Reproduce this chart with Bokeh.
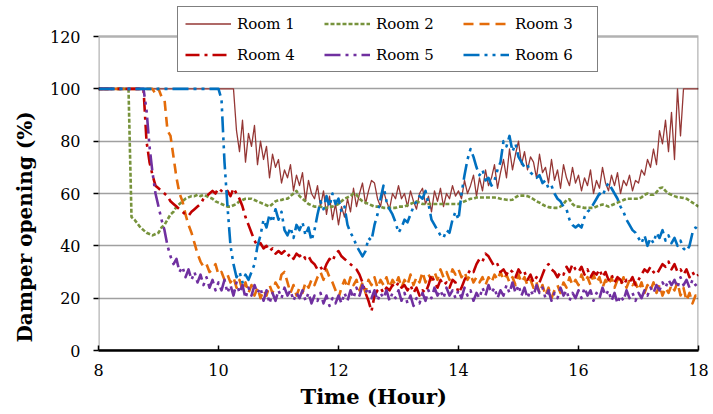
import numpy as np
from bokeh.plotting import figure
from bokeh.models import Range1d, FixedTicker, Legend, LegendItem, BoxAnnotation, Title
from bokeh.embed import file_html
from bokeh.resources import INLINE

# time grid (hours), 3-minute sampling
hours = list(np.round(8 + 0.05 * np.arange(201), 2))

room1 = ([100] * 40 +
         [100, 100, 100, 100, 100, 100, 84, 76, 88, 72, 83, 78, 86, 71, 80, 73, 78, 66, 75, 70] +
         [73, 64, 69, 66, 71, 61, 67, 63, 68, 57, 65, 60, 58, 63, 55, 61, 52, 59, 50, 56] +
         [48, 55, 51, 58, 53, 62, 55, 60, 64, 56, 61, 65, 64, 58, 55, 61, 57, 54, 60, 58] +
         [63, 58, 60, 55, 61, 57, 54, 60, 62, 56, 59, 53, 61, 57, 62, 55, 60, 58, 63, 59] +
         [61, 58, 65, 60, 63, 67, 59, 66, 61, 69, 63, 66, 71, 62, 68, 73, 66, 77, 69, 75] +
         [80, 71, 76, 69, 74, 72, 66, 75, 68, 70, 64, 73, 65, 69, 62, 71, 66, 63, 70, 64] +
         [67, 61, 66, 63, 69, 60, 65, 62, 70, 64, 61, 67, 63, 68, 60, 65, 63, 67, 61, 65] +
         [64, 69, 67, 73, 70, 77, 71, 84, 79, 88, 76, 91, 73, 100, 82, 100, 100, 100, 100, 100] +
         [100])

room2 = ([100] * 11 + [51, 50, 48.5, 47, 46, 45, 44.5, 44, 44.5] +
         [45, 47, 48, 50, 52, 53, 55, 56, 57, 58, 58.5, 59, 59, 59.5, 59, 59.5, 59, 58.5, 58, 57] +
         [56.5, 56, 55.5, 55, 55, 55.5, 56, 57, 57.5, 58, 58, 58, 57.5, 57, 56.5, 56, 55.5, 55, 56, 57] +
         [57.5, 57.5, 58, 58, 59, 60, 61, 59, 58, 57, 56, 55.5, 55, 55, 55, 54.5, 54.5, 55, 55, 55.5] +
         [56, 57, 58, 58.5, 59, 60, 59.5, 58, 57, 56.5, 56, 55.5, 55, 55, 55, 54.5, 54.5, 54.5, 54.5, 54.5] +
         [55, 55, 55, 55.5, 56, 56.5, 57, 56.5, 56, 56, 56, 56, 56, 56, 56, 56, 56, 56, 56, 56] +
         [56, 56.5, 57, 57.5, 58, 58, 58.5, 58.5, 58.5, 58.5, 58.5, 58.5, 58.5, 58.3, 58, 57.8, 57.6, 57.5, 57.6, 58.5] +
         [59.2, 59.2, 59.2, 59, 58.5, 57.8, 57, 56.5, 55.8, 55.2, 54.8, 54.6, 54.5, 54.5, 55, 56, 57.5, 57.8, 56, 55] +
         [55, 54.8, 54.5, 54.5, 54.5, 54.5, 55, 55.5, 55.8, 55.5, 55, 55.5, 56, 56.5, 57, 57.5, 58, 58, 58, 58] +
         [58, 58.5, 59.5, 60, 59.5, 59.5, 60.5, 62, 62.3, 61, 60, 59.5, 59, 58.6, 58.5, 58.3, 58, 57.3, 56.5, 55.8] +
         [55])

room3 = ([100] * 19 + [98] +
         [100, 97, 96, 84, 82, 74, 66, 60, 57, 52, 48, 45, 41, 37, 34, 32, 33, 30, 31, 33] +
         [29, 30, 27, 29, 26, 28, 24, 27, 23, 26, 22, 25, 21, 24, 20, 23, 21, 25, 22, 26] +
         [24, 29, 30, 26, 22, 25, 21, 24, 22, 26, 24, 27, 25, 28, 30, 27, 31, 28, 26, 23] +
         [20, 24, 27, 24, 28, 25, 27, 23, 26, 22, 27, 25, 28, 24, 27, 25, 28, 24, 27, 25] +
         [28, 24, 27, 25, 29, 25, 28, 26, 30, 26, 29, 27, 30, 27, 31, 28, 30, 27, 31, 29] +
         [31, 28, 30, 27, 29, 26, 28, 26, 28, 25, 28, 26, 29, 27, 30, 27, 29, 26, 28, 25] +
         [29, 26, 28, 25, 27, 24, 26, 22, 25, 21, 24, 20, 23, 25, 22, 26, 24, 28, 25, 27] +
         [25, 29, 26, 28, 25, 29, 26, 28, 24, 27, 25, 28, 24, 27, 25, 28, 24, 27, 25, 26] +
         [23, 26, 22, 25, 23, 26, 22, 25, 21, 24, 22, 25, 23, 26, 21, 24, 19, 22, 18, 21] +
         [20])

room4 = ([100] * 16 + [80, 72, 67, 63] +
         [62, 61, 60, 59, 57, 56, 55, 54, 53, 52, 51.5, 53, 54, 55, 56, 58, 59, 60, 61, 60] +
         [62, 61, 60, 61, 59, 62, 60, 58, 55, 51, 48, 45, 42, 40, 41, 39, 40, 38, 39, 37] +
         [38, 37, 38, 36, 37, 35, 37, 36, 37, 35, 36, 34, 33, 31, 32, 30, 33, 35, 34, 37] +
         [38, 36, 35, 34, 33, 32, 31, 29, 26, 22, 19, 15, 21, 23, 24, 22, 24, 23, 25, 24] +
         [26, 24, 25, 23, 25, 22, 24, 21, 23, 22, 25, 29, 26, 24, 27, 25, 26, 24, 27, 26] +
         [22, 24, 27, 29, 31, 30, 33, 35, 34, 37, 36, 34, 32, 33, 30, 31, 29, 31, 30, 28] +
         [31, 29, 30, 27, 29, 26, 28, 26, 29, 32, 33, 31, 30, 28, 30, 29, 32, 30, 33, 31] +
         [30, 32, 29, 31, 28, 30, 29, 31, 28, 30, 27, 29, 26, 28, 27, 25, 27, 26, 28, 25] +
         [27, 29, 31, 30, 32, 30, 29, 31, 33, 32, 34, 31, 33, 30, 31, 29, 31, 28, 30, 28] +
         [29])

room5 = ([100] * 16 + [92, 78, 68, 60] +
         [55, 50, 46, 40, 36, 33, 35, 30, 32, 28, 31, 27, 30, 26, 29, 25, 28, 24, 27, 23] +
         [26, 23, 27, 22, 25, 21, 26, 22, 25, 20, 24, 21, 25, 22, 24, 19, 23, 18, 22, 19] +
         [23, 20, 24, 21, 23, 19, 22, 20, 23, 19, 22, 18, 21, 19, 22, 18, 21, 17, 20, 18] +
         [21, 18, 22, 19, 23, 20, 24, 21, 25, 22, 24, 20, 23, 19, 22, 20, 23, 19, 22, 20] +
         [23, 19, 22, 18, 21, 17, 20, 18, 22, 19, 23, 20, 24, 21, 23, 20, 24, 21, 23, 20] +
         [23, 20, 24, 21, 23, 19, 22, 20, 24, 21, 25, 22, 24, 20, 23, 21, 25, 22, 26, 22] +
         [25, 21, 24, 20, 23, 21, 25, 22, 24, 20, 23, 19, 22, 20, 24, 21, 23, 19, 22, 20] +
         [23, 20, 24, 21, 23, 19, 22, 20, 24, 21, 23, 19, 22, 18, 21, 19, 23, 20, 22, 19] +
         [22, 20, 23, 21, 24, 22, 25, 23, 26, 24, 27, 25, 27, 24, 28, 25, 27, 24, 27, 25] +
         [26])

room6 = ([100] * 40 +
         [100, 96, 72, 55, 40, 33, 28, 30, 26, 29, 27, 30, 33, 40, 44, 50, 47, 52, 49, 54] +
         [50, 53, 46, 44, 47, 43, 48, 46, 49, 44, 47, 42, 46, 52, 57, 54, 59, 55, 60, 56] +
         [58, 53, 55, 48, 45, 43, 40, 38, 36, 38, 43, 42, 48, 52, 58, 63, 57, 54, 52, 49] +
         [45, 47, 50, 49, 52, 55, 57, 59, 58, 61, 56, 50, 48, 46, 44, 43, 46, 45, 50, 53] +
         [50, 60, 67, 73, 77, 74, 70, 67, 69, 65, 66, 63, 65, 69, 72, 80, 78, 82, 76, 79] +
         [74, 72, 70, 71, 68, 67, 66, 67, 64, 65, 62, 63, 60, 58, 57, 55, 54, 50, 48, 47] +
         [48, 47, 51, 53, 54, 56, 58, 60, 59, 62, 64, 62, 60, 58, 55, 53, 50, 48, 46, 45] +
         [43, 41, 44, 40, 43, 41, 45, 43, 46, 42, 44, 41, 43, 40, 42, 39, 38, 40, 45, 47] +
         [46])

names = ["Room 1", "Room 2", "Room 3", "Room 4", "Room 5", "Room 6"]
series = [room1, room2, room3, room4, room5, room6]
colors = ["#953735", "#77933C", "#E46C0A", "#C00000", "#7030A0", "#0070C0"]
widths = [1.3, 2.6, 2.6, 2.6, 2.6, 2.6]
dashes = ["solid", "4 2", "10 6", "14 5 3 5", "16 5 3 5 3 5", "16 5 3 5 3 5"]

x_ticks = [8, 10, 12, 14, 16, 18]
y_ticks = [0, 20, 40, 60, 80, 100, 120]
y_min, y_max = 0, 120
x_min, x_max = 8, 18

FONT = "DejaVu Serif"

# frame extends above the value 120 so the legend (which overlaps the top edge) is not clipped
FRAME_TOP_PX, FRAME_BOTTOM_PX, Y120_PX = 0, 350, 36
y_top = y_max * (FRAME_BOTTOM_PX - FRAME_TOP_PX) / (FRAME_BOTTOM_PX - Y120_PX)

p = figure(width=713, height=414, output_backend="svg", toolbar_location=None,
           x_range=Range1d(x_min, x_max), y_range=Range1d(y_min, y_top),
           min_border_left=98, min_border_right=15, min_border_top=FRAME_TOP_PX,
           min_border_bottom=64)

renderers = []
for name, ys, c, w, d in zip(names, series, colors, widths, dashes):
    r = p.line(hours, ys, line_color=c, line_width=w, line_dash=d, line_join="round")
    renderers.append(r)

p.background_fill_color = "white"
p.border_fill_color = "white"
p.outline_line_color = None

# visible plot-area frame (0..120 x 8..18)
p.add_layout(BoxAnnotation(left=x_min, right=x_max, bottom=y_min, top=y_max,
                           fill_alpha=0, line_color="black", line_width=2.5))

p.xgrid.visible = False
p.ygrid.ticker = FixedTicker(ticks=y_ticks[1:-1])
p.ygrid.grid_line_color = "#a0a0a0"
p.ygrid.grid_line_width = 1.5

p.xaxis.ticker = FixedTicker(ticks=x_ticks)
p.yaxis.ticker = FixedTicker(ticks=y_ticks)
for ax in (p.xaxis, p.yaxis):
    ax.axis_line_color = "black"
    ax.axis_line_width = 2.5
    ax.major_tick_line_color = "black"
    ax.major_tick_line_width = 1.5
    ax.minor_tick_line_color = None
    ax.major_label_text_font = FONT
    ax.major_label_text_font_size = "16px"
    ax.major_label_text_color = "black"
p.yaxis.axis_line_color = None

p.xaxis.major_tick_in = 5
p.xaxis.major_tick_out = 0
p.xaxis.major_label_standoff = 13

p.yaxis.major_tick_in = 0
p.yaxis.major_tick_out = 5
p.yaxis.major_label_standoff = 13

ytitle = Title(text="Damper opening (%)", align="left", offset=8, standoff=20,
               vertical_align="bottom", text_font=FONT, text_font_size="20px",
               text_font_style="bold", text_color="black")
p.add_layout(ytitle, "left")

xtitle = Title(text="Time (Hour)", align="left", offset=202, standoff=6,
               vertical_align="bottom", text_font=FONT, text_font_size="21px",
               text_font_style="bold", text_color="black")
p.add_layout(xtitle, "below")

items = [LegendItem(label=n, renderers=[r]) for n, r in zip(names, renderers)]
legend = Legend(items=items, location=(79, 278), orientation="horizontal", ncols=3,
                glyph_width=46, glyph_height=19, label_standoff=6, label_width=75,
                label_height=19, spacing=12, padding=7, margin=0,
                label_text_font=FONT, label_text_font_size="15px",
                label_text_color="black",
                border_line_color="black", border_line_width=1.3,
                background_fill_color="white", background_fill_alpha=1.0)
p.add_layout(legend)

open("out.html", "w").write(file_html(p, INLINE))
